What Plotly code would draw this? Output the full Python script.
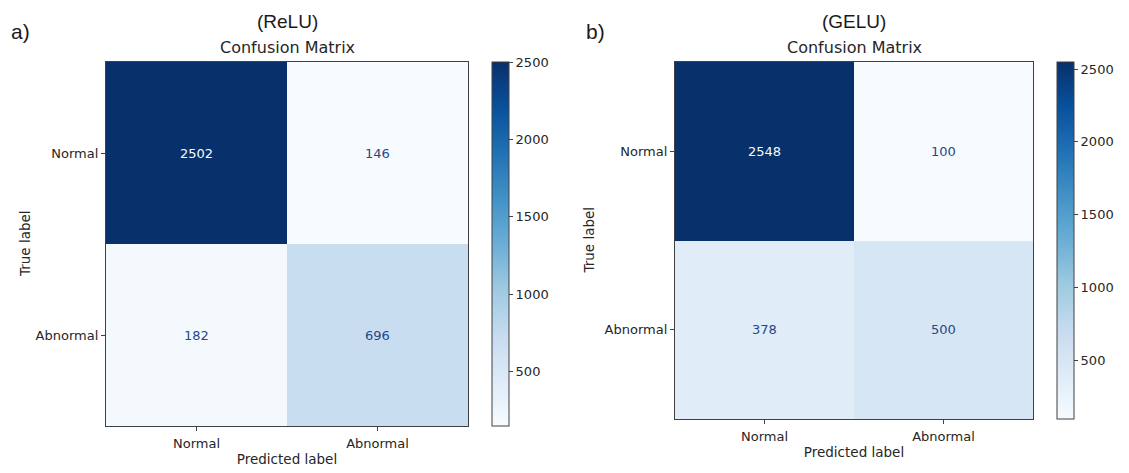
import plotly.graph_objects as go
import plotly.colors as pc

W, H = 1129, 473

labels = ["Normal", "Abnormal"]
relu_matrix = [[2502, 146], [182, 696]]
gelu_matrix = [[2548, 100], [378, 500]]
cbar_ticks = [500, 1000, 1500, 2000, 2500]

blues = pc.sequential.Blues
scale = [[i / (len(blues) - 1), c] for i, c in enumerate(blues)]

FONT = "DejaVu Sans"
TXT = "#262626"
LINE = "#404040"
TICK_SIZE = 13
LABEL_SIZE = 13.5

def px_x(p):
    return p / W

def px_y(p):
    return 1 - p / H

panels = [
    dict(z=relu_matrix, xa="x", ya="y", xdom=(106, 468), ytop=62, ybot=426,
         cbx=492, name="(ReLU)", tag="a)", tagx=20, ylabx=25, titlex=287),
    dict(z=gelu_matrix, xa="x2", ya="y2", xdom=(675, 1033), ytop=62, ybot=419,
         cbx=1057, name="(GELU)", tag="b)", tagx=595, ylabx=588, titlex=854),
]

fig = go.Figure()
annotations = []
layout = {}
for i, p in enumerate(panels):
    z = p["z"]
    flat = [v for row in z for v in row]
    zmin, zmax = min(flat), max(flat)
    fig.add_trace(go.Heatmap(
        z=z, x=labels, y=labels, xaxis=p["xa"], yaxis=p["ya"],
        colorscale=scale, zmin=zmin, zmax=zmax, showscale=True,
        hoverinfo="z",
        colorbar=dict(
            x=px_x(p["cbx"]), xanchor="left", xpad=0, ypad=0,
            y=px_y(p["ytop"]), yanchor="top",
            len=p["ybot"] - p["ytop"], lenmode="pixels",
            thickness=17, thicknessmode="pixels",
            outlinewidth=1, outlinecolor=LINE,
            tickvals=cbar_ticks, ticks="outside", ticklen=4,
            tickcolor=LINE, tickfont=dict(family=FONT, size=TICK_SIZE, color=TXT),
        ),
    ))
    sfx = "" if i == 0 else str(i + 1)
    layout["xaxis" + sfx] = dict(
        domain=[px_x(p["xdom"][0]), px_x(p["xdom"][1])], anchor="y" + sfx,
        showline=True, mirror=True, linecolor=LINE, linewidth=1.2,
        ticks="outside", ticklen=4, tickcolor=LINE, showgrid=False, zeroline=False,
        ticklabelstandoff=1,
        tickfont=dict(family=FONT, size=TICK_SIZE, color=TXT),
        title=dict(text="Predicted label", font=dict(family=FONT, size=LABEL_SIZE, color=TXT), standoff=4),
    )
    layout["yaxis" + sfx] = dict(
        domain=[px_y(p["ybot"]), px_y(p["ytop"])], anchor="x" + sfx,
        autorange="reversed",
        showline=True, mirror=True, linecolor=LINE, linewidth=1.2,
        ticks="outside", ticklen=4, tickcolor=LINE, showgrid=False, zeroline=False,
        tickfont=dict(family=FONT, size=TICK_SIZE, color=TXT),
    )
    annotations.append(dict(
        text="True label", xref="paper", yref="paper",
        x=px_x(p["ylabx"]), y=(px_y(p["ybot"]) + px_y(p["ytop"])) / 2,
        textangle=-90, showarrow=False, xanchor="center", yanchor="middle",
        font=dict(family=FONT, size=LABEL_SIZE, color=TXT),
    ))
    for r, yl in enumerate(labels):
        for c, xl in enumerate(labels):
            v = z[r][c]
            frac = (v - zmin) / (zmax - zmin)
            col = "#f7fbff" if frac > 0.5 else "#24498a"
            annotations.append(dict(
                text=str(v), x=xl, y=yl, xref=p["xa"], yref=p["ya"],
                showarrow=False, font=dict(family=FONT, size=13, color=col),
            ))
    annotations.append(dict(
        text=p["name"], xref="paper", yref="paper",
        x=px_x(p["titlex"]), y=px_y(21), xanchor="center", yanchor="middle",
        showarrow=False, font=dict(family="Liberation Sans", size=19, color="#1a1a1a"),
    ))
    annotations.append(dict(
        text="Confusion Matrix", xref="paper", yref="paper",
        x=px_x(p["titlex"]), y=px_y(47), xanchor="center", yanchor="middle",
        showarrow=False, font=dict(family=FONT, size=16, color=TXT),
    ))
    annotations.append(dict(
        text=p["tag"], xref="paper", yref="paper",
        x=px_x(p["tagx"]), y=px_y(32), xanchor="center", yanchor="middle",
        showarrow=False, font=dict(family="Liberation Sans", size=21, color="#1a1a1a"),
    ))

fig.update_layout(
    width=W, height=H, margin=dict(l=0, r=0, t=0, b=0),
    paper_bgcolor="white", plot_bgcolor="white",
    annotations=annotations, **layout,
)
fig.write_html("out.html")
